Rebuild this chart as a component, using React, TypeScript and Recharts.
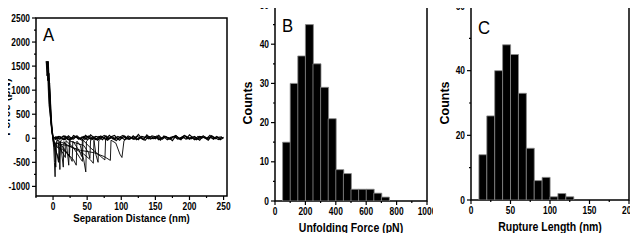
import React from 'react'
import { LineChart, Line, BarChart, Bar, XAxis, YAxis, ReferenceArea } from 'recharts'

// ---- panel A: force-distance retraction curves [distance nm, force pN]
const curve1 = [[-9,1600],[-8,1450],[-7,1500],[-6,1100],[-5,900],[-4,600],[-3,350],[-1,100],[1,-200],[2,-500],[3,-800],[4,-100],[7,-20],[9,-250],[10,-650],[11,-60],[16,20],[22,-30],[28,10]]
const curve2 = [[-8,1600],[-7,1200],[-6,1350],[-5,800],[-3,500],[-2,200],[0,-50],[5,-300],[9,-450],[11,-80],[13,-350],[15,-600],[16,-70],[20,-150],[23,-560],[24,-40],[30,0]]
const curve3 = [[-10,1600],[-9,1300],[-7,1400],[-6,900],[-4,450],[-2,150],[1,-100],[10,-200],[20,-300],[30,-450],[34,-560],[35,-60],[40,-150],[45,-450],[48,-700],[49,-60],[55,20]]
const curve4 = [[-7,1600],[-6,1000],[-5,1150],[-4,700],[-3,300],[0,0],[15,-100],[30,-200],[45,-330],[55,-450],[59,-520],[60,-40],[63,-350],[66,-500],[67,-50],[72,10]]
const curve5 = [[-9,1600],[-8,1200],[-6,1250],[-5,700],[-3,400],[-1,100],[2,-100],[20,-150],[40,-250],[60,-300],[75,-380],[84,-460],[85,-40],[92,-100],[98,-330],[101,-400],[104,-50],[110,10]]
const curve6 = [[-8,1600],[-7,1450],[-5,1000],[-4,800],[-2,250],[1,-80],[6,-350],[8,-500],[9,-80],[18,-250],[26,-420],[28,-480],[29,-60],[38,-250],[42,-380],[43,-50],[50,0]]
const curve7 = [[-10,1600],[-8,1350],[-6,700],[-3,350],[-1,80],[3,-150],[12,-250],[18,-400],[19,-50],[30,-200],[40,-420],[43,-480],[44,-40],[55,-200],[70,-380],[76,-450],[77,-30],[85,10]]
const curve8 = [[-7,1600],[-6,1300],[-4,900],[-3,500],[-1,150],[2,-200],[4,-600],[5,-80],[14,-200],[24,-380],[25,-60],[45,-150],[52,-300],[54,-420],[55,-40],[62,0]]
const curves = [curve1, curve2, curve3, curve4, curve5, curve6, curve7, curve8]

// baseline noise after detachment
const gridA = [0,5,10,15,20,25,30,35,40,45,50,55,60,65,70,75,80,85,90,95,100,105,110,115,120,125,130,135,140,145,150,155,160,165,170,175,180,185,190,195,200,205,210,215,220,225,230,235,240,245,250]
const gridB = [2.5,7.5,12.5,17.5,22.5,27.5,32.5,37.5,42.5,47.5,52.5,57.5,62.5,67.5,72.5,77.5,82.5,87.5,92.5,97.5,102.5,107.5,112.5,117.5,122.5,127.5,132.5,137.5,142.5,147.5,152.5,157.5,162.5,167.5,172.5,177.5,182.5,187.5,192.5,197.5,202.5,207.5,212.5,217.5,222.5,227.5,232.5,237.5,242.5,247.5]
const noiseA = [0,30,-20,50,10,-40,60,20,-10,40, -30,70,10,-20,50,0,-40,30,60,-10, 20,-30,50,10,-20,80,0,-40,40,20, -10,60,-20,30,10,-50,50,0,30,-20, 70,10,-30,40,20,-10,60,-20,30,0, 20]
const noiseC = [20,-10,40,-30,30,0,-20,50,-10,20, 40,-20,30,-40,10,60,-10,20,-30,40, 0,50,-20,10,30,-30,40,20,-10,50, 30,-30,10,40,-20,20,60,-10,0,40, -20,30,10,-40,50,0,20,-10,40,-30, 10]
const noiseB = [-20,40,10,-30,50,-10,30,0,-40,60, 10,-20,40,20,-30,50,-10,30,-50,20, 60,-10,30,-20,40,10,-30,70,0,-10, 30,-40,50,10,-20,40,0,-30,60,20, -10,40,-20,30,10,-40,50,-10,20,30]
const noiseD = [30,-10,20,50,-30,10,40,-20,30,-10, 50,0,-30,40,10,-20,60,-10,20,-40, 30,10,-20,50,-30,20,0,40,-20,10, 50,-10,30,-30,20,40,-20,10,60,-10, 20,-30,40,0,30,-20,50,10,-30,20]

const distTicks = [0, 50, 100, 150, 200, 250]
const distMinor = [-25, 25, 75, 125, 175, 225]
const forceTicks = [-1000, -500, 0, 500, 1000, 1500, 2000, 2500]
const forceMinor = [-750, -250, 250, 750, 1250, 1750, 2250]

// ---- panel B: unfolding force histogram
const unfoldStarts = [50,100,150,200,250,300,350,400,450,500,550,600,650,700]
const unfoldCounts = [15,30,37,45,35,29,21,8,7,3,3,3,2,1]
const UNFOLD_BIN = 50
const unfoldTicks = [0, 200, 400, 600, 800, 1000]
const unfoldMinor = [100, 300, 500, 700, 900]
const countTicksB = [0, 10, 20, 30, 40, 50]
const countMinorB = [5, 15, 25, 35, 45]

// ---- panel C: rupture length histogram
const ruptureStarts = [10,20,30,40,50,60,70,80,90,100,110,120]
const ruptureCounts = [14,26,40,48,45,33,16,6,7,1,2,1]
const RUPTURE_BIN = 10
const ruptureTicks = [0, 50, 100, 150, 200]
const ruptureMinor = [25, 75, 125, 175]
const countTicksC = [0, 20, 40, 60]
const countMinorC = [10, 30, 50]

const FONT = '"Liberation Sans", Arial, sans-serif'
const SQUEEZE = 0.84

const toPts = (pts: number[][]) => pts.map(([x, y]) => ({ x, y }))
const zipPts = (xs: number[], ys: number[]) => xs.map((x, i) => ({ x, y: ys[i] }))
const histData = (starts: number[], counts: number[], w: number) =>
  starts.map((s, i) => ({ mid: s + w / 2, count: counts[i] }))

function BottomTick(props: any) {
  const { x, y, payload, majors } = props
  const major = majors.includes(payload.value)
  const len = major ? 4 : 2
  return (
    <g>
      <line x1={x} y1={y} x2={x} y2={y + len} stroke="#000" strokeWidth={1.2} />
      {major && (
        <text
          transform={`translate(${x},${y + 14}) scale(${SQUEEZE},1)`}
          textAnchor="middle"
          fontSize={10}
          fontWeight="bold"
          fontFamily={FONT}
          fill="#000"
        >
          {payload.value}
        </text>
      )}
    </g>
  )
}

function LeftTick(props: any) {
  const { x, y, payload, majors } = props
  const major = majors.includes(payload.value)
  const len = major ? 4 : 2
  return (
    <g>
      <line x1={x - len} y1={y} x2={x} y2={y} stroke="#000" strokeWidth={1.2} />
      {major && (
        <text
          transform={`translate(${x - 6},${y + 3.5}) scale(${SQUEEZE},1)`}
          textAnchor="end"
          fontSize={10}
          fontWeight="bold"
          fontFamily={FONT}
          fill="#000"
        >
          {payload.value}
        </text>
      )}
    </g>
  )
}

function xTitle(text: string, dy: number, size: number) {
  return (p: any) => {
    const vb = p.viewBox
    return (
      <text
        transform={`translate(${vb.x + vb.width / 2},${vb.y + dy}) scale(${SQUEEZE},1)`}
        textAnchor="middle"
        fontSize={size}
        fontWeight="bold"
        fontFamily={FONT}
        fill="#000"
      >
        {text}
      </text>
    )
  }
}

// baselineX: where the (rotated) text baseline sits, glyphs extend to its left
function yTitle(text: string, baselineX: number, size: number) {
  return (p: any) => {
    const vb = p.viewBox
    return (
      <text
        transform={`translate(${vb.x + baselineX},${vb.y + vb.height / 2}) rotate(-90)`}
        textAnchor="middle"
        fontSize={size}
        fontWeight="bold"
        fontFamily={FONT}
        fill="#000"
      >
        {text}
      </text>
    )
  }
}

function panelLetter(text: string, dx: number, dy: number) {
  return (p: any) => {
    const vb = p.viewBox
    return (
      <text
        transform={`translate(${vb.x + dx},${vb.y + dy}) scale(0.88,1)`}
        fontSize={19}
        fontFamily={FONT}
        fill="#000"
      >
        {text}
      </text>
    )
  }
}

function PanelA() {
  const noise = [zipPts(gridA, noiseA), zipPts(gridB, noiseB), zipPts(gridA, noiseC), zipPts(gridB, noiseD)]
  return (
    <LineChart width={236} height={241} margin={{ top: 18, right: 9, bottom: 0, left: 0 }}>
      <XAxis
        dataKey="x"
        type="number"
        domain={[-25, 255]}
        ticks={[...distMinor, ...distTicks].sort((a, b) => a - b)}
        interval={0}
        allowDataOverflow
        height={45}
        tickSize={0}
        tickMargin={0}
        tickLine={false}
        axisLine={false}
        tick={(p: any) => <BottomTick {...p} majors={distTicks} />}
        label={{ content: xTitle('Separation Distance (nm)', 26, 11.5) }}
      />
      <YAxis
        type="number"
        domain={[-1200, 2500]}
        ticks={[...forceMinor, ...forceTicks].sort((a, b) => a - b)}
        interval={0}
        allowDataOverflow
        width={36}
        tickSize={0}
        tickMargin={0}
        tickLine={false}
        axisLine={false}
        tick={(p: any) => <LeftTick {...p} majors={forceTicks} />}
        label={{ content: yTitle('Force (pN)', 9.5, 11.5) }}
      />
      {noise.map((d, i) => (
        <Line key={'n' + i} data={d} dataKey="y" stroke="#000" strokeWidth={1.1} dot={false} isAnimationActive={false} />
      ))}
      {curves.map((c, i) => (
        <Line key={'c' + i} data={toPts(c)} dataKey="y" stroke="#000" strokeWidth={0.9} dot={false} isAnimationActive={false} />
      ))}
      <ReferenceArea
        x1={-25}
        x2={255}
        y1={-1200}
        y2={2500}
        fill="none"
        stroke="#000"
        strokeWidth={1.5}
        label={{ content: panelLetter('A', 7, 22.5) }}
      />
    </LineChart>
  )
}

function Histogram(props: {
  width: number
  top: number
  right: number
  yWidth: number
  xHeight: number
  data: { mid: number; count: number }[]
  xDomain: [number, number]
  xMajor: number[]
  xMinor: number[]
  yDomain: [number, number]
  yMajor: number[]
  yMinor: number[]
  xLabel: string
  panel: string
  letterDy: number
}) {
  const p = props
  return (
    <BarChart
      width={p.width}
      height={241}
      data={p.data}
      barCategoryGap={0}
      barGap={0}
      margin={{ top: p.top, right: p.right, bottom: 0, left: 0 }}
    >
      <XAxis
        dataKey="mid"
        type="number"
        domain={p.xDomain}
        ticks={[...p.xMinor, ...p.xMajor].sort((a, b) => a - b)}
        interval={0}
        allowDataOverflow
        height={p.xHeight}
        tickSize={0}
        tickMargin={0}
        tickLine={false}
        axisLine={false}
        tick={(t: any) => <BottomTick {...t} majors={p.xMajor} />}
        label={{ content: xTitle(p.xLabel, 31, 12.5) }}
      />
      <YAxis
        type="number"
        domain={p.yDomain}
        ticks={[...p.yMinor, ...p.yMajor].sort((a, b) => a - b)}
        interval={0}
        allowDataOverflow
        width={p.yWidth}
        tickSize={0}
        tickMargin={0}
        tickLine={false}
        axisLine={false}
        tick={(t: any) => <LeftTick {...t} majors={p.yMajor} />}
        label={{ content: yTitle('Counts', 15.5, 12.5) }}
      />
      <Bar dataKey="count" fill="#000" stroke="#8a8a8a" strokeWidth={0.8} isAnimationActive={false} />
      <ReferenceArea
        x1={p.xDomain[0]}
        x2={p.xDomain[1]}
        y1={p.yDomain[0]}
        y2={p.yDomain[1]}
        fill="none"
        stroke="#000"
        strokeWidth={1.5}
        label={{ content: panelLetter(p.panel, 7, p.letterDy) }}
      />
    </BarChart>
  )
}

export default function App() {
  return (
    <div style={{ position: 'relative', width: 638, height: 241, margin: -8, background: '#fff', overflow: 'hidden' }}>
      <div style={{ position: 'absolute', left: 0, top: 0 }}>
        <PanelA />
      </div>
      <div style={{ position: 'absolute', left: 236, top: 0 }}>
        <Histogram
          width={197}
          top={5}
          right={6}
          yWidth={39}
          xHeight={40}
          data={histData(unfoldStarts, unfoldCounts, UNFOLD_BIN)}
          xDomain={[0, 1000]}
          xMajor={unfoldTicks}
          xMinor={unfoldMinor}
          yDomain={[0, 50]}
          yMajor={countTicksB}
          yMinor={countMinorB}
          xLabel="Unfolding Force (pN)"
          panel="B"
          letterDy={26.5}
        />
      </div>
      <div style={{ position: 'absolute', left: 433, top: 0, background: '#fff' }}>
        <Histogram
          width={205}
          top={6}
          right={9}
          yWidth={38}
          xHeight={41}
          data={histData(ruptureStarts, ruptureCounts, RUPTURE_BIN)}
          xDomain={[0, 200]}
          xMajor={ruptureTicks}
          xMinor={ruptureMinor}
          yDomain={[0, 60]}
          yMajor={countTicksC}
          yMinor={countMinorC}
          xLabel="Rupture Length (nm)"
          panel="C"
          letterDy={27.5}
        />
      </div>
    </div>
  )
}
